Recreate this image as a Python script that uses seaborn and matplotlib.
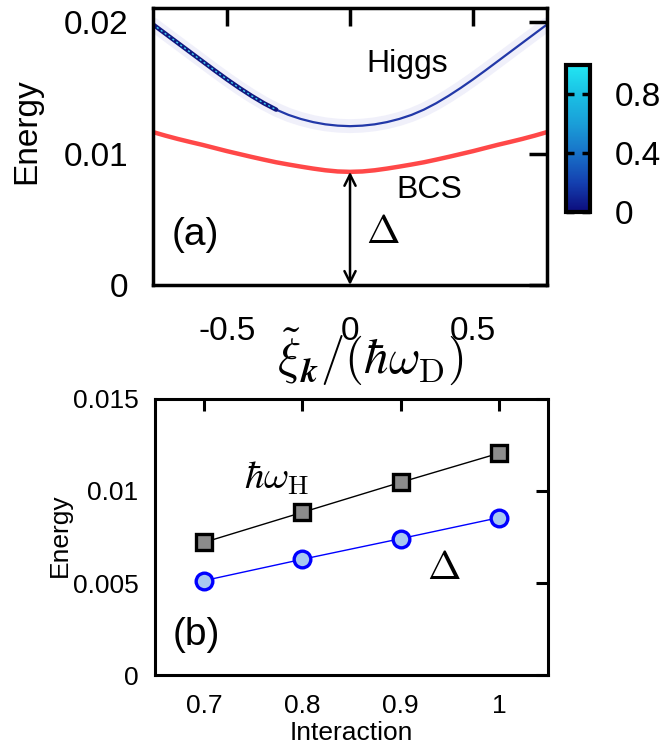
import matplotlib
matplotlib.use("Agg")
import matplotlib.pyplot as plt
from matplotlib.colors import LinearSegmentedColormap, Normalize
from matplotlib.cm import ScalarMappable
import seaborn as sns
import pandas as pd

# (a) dispersion
xi = [-0.8, -0.75, -0.7, -0.65, -0.6, -0.55, -0.5, -0.45, -0.4, -0.35, -0.3,
      -0.25, -0.2, -0.15, -0.1, -0.05, 0.0, 0.05, 0.1, 0.15, 0.2, 0.25, 0.3,
      0.35, 0.4, 0.45, 0.5, 0.55, 0.6, 0.65, 0.7, 0.75, 0.8]
higgs = [0.01985, 0.01915, 0.01845, 0.01775, 0.01705, 0.01635, 0.01567, 0.01502,
         0.01441, 0.01385, 0.01336, 0.01296, 0.01265, 0.01241, 0.01224, 0.01214,
         0.0121,
         0.01214, 0.01224, 0.01241, 0.01265, 0.01296, 0.01336, 0.01385, 0.01441,
         0.01502, 0.01567, 0.01635, 0.01705, 0.01775, 0.01845, 0.01915, 0.01985]
bcs = [0.01165, 0.01138, 0.01113, 0.0109, 0.01068, 0.01044, 0.0102, 0.00998, 0.00976,
       0.00955, 0.00935, 0.00918, 0.00902, 0.00887, 0.00874, 0.00865, 0.00862,
       0.00865, 0.00874, 0.00887, 0.00902, 0.00918, 0.00935, 0.00955, 0.00976,
       0.00998, 0.0102, 0.01044, 0.01068, 0.0109, 0.01113, 0.01138, 0.01165]
cbar_ticks = [0, 0.4, 0.8]

# (b) energies vs interaction
interaction = [0.7, 0.8, 0.9, 1.0]
omega_h = [0.00721, 0.00884, 0.01047, 0.01205]
delta = [0.00513, 0.00629, 0.00741, 0.00855]

df_a = pd.DataFrame({"xi": xi, "higgs": higgs, "bcs": bcs})
df_b = pd.DataFrame({"U": interaction, "wh": omega_h, "delta": delta})

sns.set_style("white")
plt.rcParams["font.family"] = ["Liberation Sans", "DejaVu Sans"]
plt.rcParams["mathtext.fontset"] = "cm"
plt.rcParams["axes.unicode_minus"] = False
plt.rcParams["axes.axisbelow"] = False
for k in ["text.color", "axes.labelcolor", "xtick.color", "ytick.color", "axes.edgecolor"]:
    plt.rcParams[k] = "black"

fig = plt.figure(figsize=(6.69, 7.43), dpi=100)
ax1 = fig.add_axes([0.2287, 0.6164, 0.589, 0.3728])
cax = fig.add_axes([0.8460, 0.7147, 0.0360, 0.1978])
ax2 = fig.add_axes([0.2317, 0.0915, 0.5874, 0.3715])

# ---- panel (a)
left = df_a[df_a["xi"] <= -0.3]
sns.lineplot(data=df_a, x="xi", y="higgs", ax=ax1, color="#e6e6f8", lw=10, alpha=0.6)
sns.lineplot(data=df_a, x="xi", y="higgs", ax=ax1, color="#2238a8", lw=1.6)
sns.lineplot(data=left, x="xi", y="higgs", ax=ax1, color="#101880", lw=3.2)
sns.lineplot(data=left, x="xi", y="higgs", ax=ax1, color="#40d0f0", lw=1.0,
             linestyle=(0, (1.5, 2)))
sns.lineplot(data=df_a, x="xi", y="bcs", ax=ax1, color="#ff2828", lw=3.2, alpha=0.85)

d0 = df_a.loc[df_a["xi"] == 0.0, "bcs"].iloc[0]
ax1.annotate("", xy=(0, 0), xytext=(0, d0),
             arrowprops=dict(arrowstyle="<->", lw=1.8, color="black",
                             shrinkA=0, shrinkB=0, mutation_scale=20))

ax1.set_xlim(-0.8, 0.8)
ax1.set_ylim(0, 0.0211)
ax1.set_xticks([-0.5, 0, 0.5])
ax1.set_xticklabels(["-0.5", "0", "0.5"])
ax1.set_yticks([0, 0.01, 0.02])
ax1.set_yticklabels(["0", "0.01", "0.02"])
ax1.tick_params(direction="in", length=13, width=2.5, labelsize=24,
                top=True, right=True, pad=18)
ax1.tick_params(axis="x", pad=22)
for s in ax1.spines.values():
    s.set_linewidth(2.5)
ax1.set_xlabel(r"$\tilde{\xi}_{\boldsymbol{k}}/(\hbar\omega_{\rm D})$", fontsize=35)
ax1.xaxis.set_label_coords(0.551, -0.15)
ax1.set_ylabel("Energy", fontsize=24)
ax1.yaxis.set_label_coords(-0.282, 0.556)

ax1.text(0.234, 0.0168, "Higgs", fontsize=23, ha="center", va="center")
ax1.text(0.32, 0.00725, "BCS", fontsize=23, ha="center", va="center")
ax1.text(0.135, 0.00405, r"$\Delta$", fontsize=29, ha="center", va="center")
ax1.text(-0.627, 0.0038, "(a)", fontsize=28, ha="center", va="center")

# colorbar
cmap = LinearSegmentedColormap.from_list(
    "hg", ["#0c0c7c", "#1440b0", "#1872c8", "#1a9ed8", "#1ac0e4", "#22e6f2"])
sm = ScalarMappable(norm=Normalize(0, 1), cmap=cmap)
cb = fig.colorbar(sm, cax=cax, ticks=cbar_ticks)
cb.ax.set_yticklabels(["0", "0.4", "0.8"])
cb.outline.set_linewidth(3)
cb.outline.set_edgecolor("black")
cax.set_axisbelow(False)
cax.yaxis.set_ticks_position("both")
cax.tick_params(direction="in", length=6, width=2.5, color="black",
                labelsize=24, pad=18, labelleft=False, labelright=True)

# ---- panel (b)
sns.lineplot(data=df_b, x="U", y="wh", ax=ax2, color="black", lw=1.0,
             marker="s", markersize=11, markerfacecolor="#8c8c8c",
             markeredgecolor="black", markeredgewidth=2.4)
sns.lineplot(data=df_b, x="U", y="delta", ax=ax2, color="#0000ff", lw=1.0,
             marker="o", markersize=12, markerfacecolor="#a8c8f0",
             markeredgecolor="#0000ff", markeredgewidth=2.4)

ax2.set_xlim(0.65, 1.05)
ax2.set_ylim(0, 0.015)
ax2.set_xticks(interaction)
ax2.set_xticklabels(["0.7", "0.8", "0.9", "1"])
ax2.set_yticks([0, 0.005, 0.01, 0.015])
ax2.set_yticklabels(["0", "0.005", "0.01", "0.015"])
ax2.tick_params(direction="in", length=8.5, width=2.2, labelsize=19,
                top=True, right=True, pad=12)
ax2.tick_params(axis="x", pad=14)
for s in ax2.spines.values():
    s.set_linewidth(2.2)
ax2.set_xlabel("Interaction", fontsize=19)
ax2.xaxis.set_label_coords(0.5, -0.165)
ax2.set_ylabel("Energy", fontsize=19)
ax2.yaxis.set_label_coords(-0.211, 0.507)

ax2.text(0.774, 0.0107, r"$\hbar\omega_{\rm H}$", fontsize=28, ha="center", va="center")
ax2.text(0.944, 0.0058, r"$\Delta$", fontsize=29, ha="center", va="center")
ax2.text(0.692, 0.0022, "(b)", fontsize=28, ha="center", va="center")

fig.savefig("out.png", dpi=100)
